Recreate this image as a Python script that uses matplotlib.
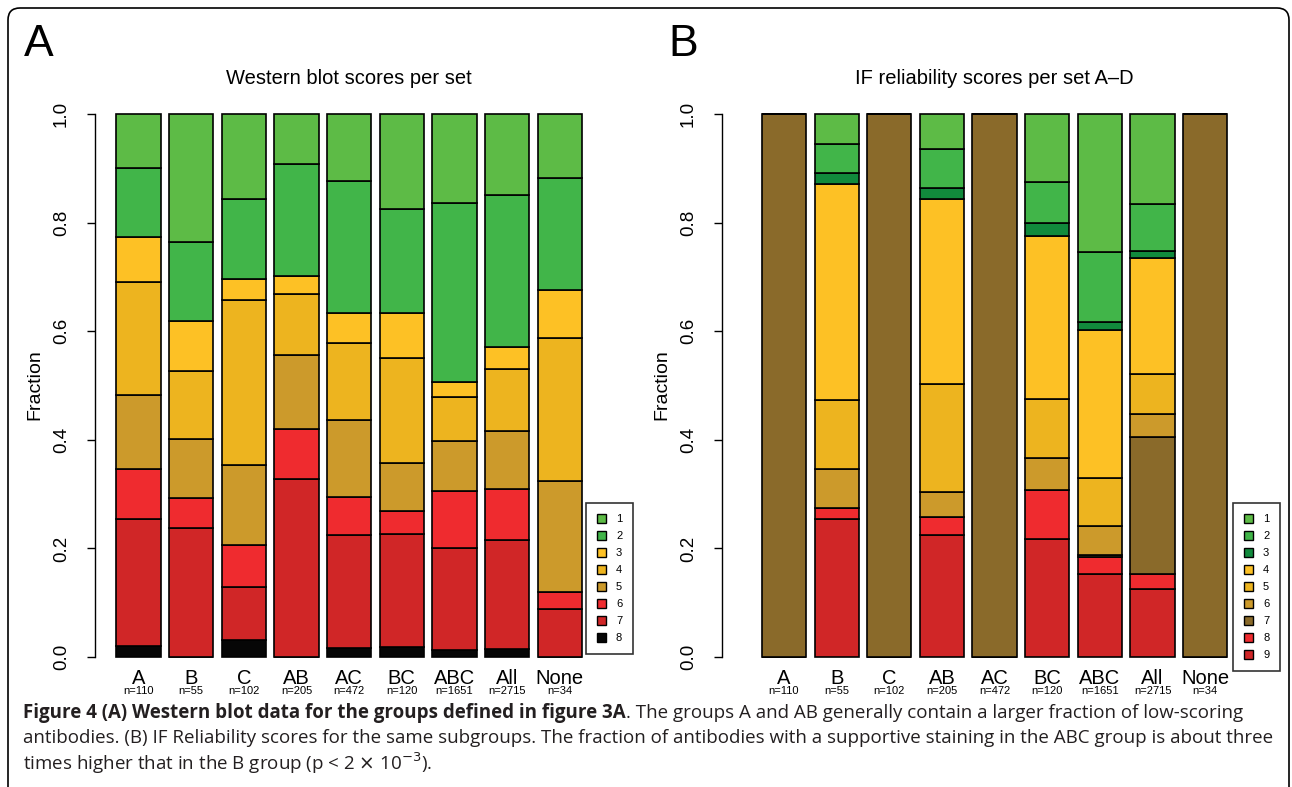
import matplotlib
matplotlib.use("Agg")
import matplotlib.pyplot as plt
from matplotlib.patches import Patch, PathPatch
from matplotlib.path import Path
from matplotlib.transforms import IdentityTransform

W, H = 1292, 787

groups = ["A", "B", "C", "AB", "AC", "BC", "ABC", "All", "None"]
counts = ["n=110", "n=55", "n=102", "n=205", "n=472", "n=120", "n=1651", "n=2715", "n=34"]

# Western blot scores, fraction per score (score 8 at bottom ... score 1 at top)
wb_8 = [0.020, 0.000, 0.031, 0.000, 0.017, 0.019, 0.013, 0.014, 0.000]
wb_7 = [0.235, 0.237, 0.097, 0.327, 0.208, 0.207, 0.188, 0.201, 0.088]
wb_6 = [0.091, 0.055, 0.078, 0.093, 0.070, 0.042, 0.105, 0.094, 0.031]
wb_5 = [0.136, 0.109, 0.148, 0.136, 0.141, 0.090, 0.092, 0.108, 0.206]
wb_4 = [0.209, 0.126, 0.303, 0.112, 0.143, 0.192, 0.080, 0.113, 0.263]
wb_3 = [0.082, 0.092, 0.039, 0.034, 0.055, 0.084, 0.029, 0.040, 0.088]
wb_2 = [0.127, 0.145, 0.147, 0.205, 0.243, 0.191, 0.330, 0.280, 0.206]
wb_1 = [0.100, 0.236, 0.157, 0.093, 0.123, 0.175, 0.163, 0.150, 0.118]

# IF reliability scores (score 9 at bottom ... score 1 at top)
if_9 = [0, 0.255, 0, 0.225, 0, 0.217, 0.152, 0.126, 0]
if_8 = [0, 0.019, 0, 0.033, 0, 0.091, 0.033, 0.026, 0]
if_7 = [1, 0.000, 1, 0.000, 1, 0.000, 0.002, 0.253, 1]
if_6 = [0, 0.072, 0, 0.045, 0, 0.059, 0.055, 0.042, 0]
if_5 = [0, 0.127, 0, 0.199, 0, 0.108, 0.088, 0.075, 0]
if_4 = [0, 0.399, 0, 0.341, 0, 0.300, 0.273, 0.213, 0]
if_3 = [0, 0.019, 0, 0.020, 0, 0.025, 0.014, 0.012, 0]
if_2 = [0, 0.054, 0, 0.073, 0, 0.075, 0.128, 0.088, 0]
if_1 = [0, 0.055, 0, 0.064, 0, 0.125, 0.255, 0.165, 0]

wb_series = [wb_8, wb_7, wb_6, wb_5, wb_4, wb_3, wb_2, wb_1]
wb_labels = ["8", "7", "6", "5", "4", "3", "2", "1"]
wb_colors = ["#060606", "#D02627", "#EF2B2F", "#CC9A2B", "#EDB41F", "#FDC125", "#41B549", "#5DBB46"]

if_series = [if_9, if_8, if_7, if_6, if_5, if_4, if_3, if_2, if_1]
if_labels = ["9", "8", "7", "6", "5", "4", "3", "2", "1"]
if_colors = ["#D02627", "#EF2B2F", "#8A6A2A", "#CC9A2B", "#EDB41F", "#FDC125", "#118A3C", "#41B549", "#5DBB46"]

plt.rcParams['font.family'] = ["Liberation Sans", "DejaVu Sans"]

fig = plt.figure(figsize=(W / 100, H / 100), dpi=100)


def fx(px):
    return px / W


def fy(py):
    return 1 - py / H


def panel(left, first_center, title, letter, letter_x, series, labels, colors, leg_x, leg_top):
    step = 52.65
    width_px = 560
    ax = fig.add_axes([fx(left), fy(657), fx(width_px), 543 / H])
    ax.patch.set_visible(False)
    lo = -(first_center - left) / step
    ax.set_xlim(lo, lo + width_px / step)
    ax.set_ylim(0, 1)
    x = list(range(len(groups)))
    bottom = [0.0] * len(groups)
    for s, c in zip(series, colors):
        ax.bar(x, s, bottom=bottom, width=0.84, color=c, edgecolor="black",
               linewidth=1.2, clip_on=False)
        bottom = [b + v for b, v in zip(bottom, s)]
    for sp in ["top", "right", "bottom"]:
        ax.spines[sp].set_visible(False)
    ax.spines["left"].set_bounds(0, 1)
    ax.spines["left"].set_linewidth(1.0)
    ax.set_xticks([])
    ax.set_yticks([0, 0.2, 0.4, 0.6, 0.8, 1.0])
    ax.set_yticklabels(["0.0", "0.2", "0.4", "0.6", "0.8", "1.0"], rotation=90,
                       va="center", fontsize=13.5)
    ax.tick_params(axis="y", length=6, width=1.0, pad=12)
    tr = ax.get_xaxis_transform()
    for i, (g, n) in enumerate(zip(groups, counts)):
        ax.text(i, -0.039, g, transform=tr, ha="center", va="center", fontsize=14.5)
        ax.text(i, -0.063, n, transform=tr, ha="center", va="center", fontsize=8)
    fig.text(fx(left - 60), fy(385), "Fraction", rotation=90, ha="center",
             va="center", fontsize=14)
    fig.text(fx(first_center + 4 * step), fy(78), title, ha="center", va="center",
             fontsize=14.5)
    fig.text(fx(letter_x), fy(45), letter, ha="left", va="center", fontsize=32)
    handles = [Patch(facecolor=c, edgecolor="black", linewidth=1.0) for c in colors]
    leg = fig.legend(handles[::-1], labels[::-1], loc="upper left",
                     bbox_to_anchor=(fx(leg_x), fy(leg_top)), fontsize=8,
                     frameon=True, fancybox=False, handlelength=0.8,
                     handleheight=0.8, handletextpad=0.9, labelspacing=0.62,
                     borderpad=1.0, borderaxespad=0)
    leg.get_frame().set_edgecolor("black")
    leg.get_frame().set_linewidth(1.2)
    return ax


panel(95, 138.5, "Western blot scores per set", "A", 24, wb_series, wb_labels,
      wb_colors, 586, 503)
panel(722, 784, "IF reliability scores per set A\u2013D", "B", 668, if_series,
      if_labels, if_colors, 1233, 503)

# frame around figure
r = 12
x0, x1, yt = 8, 1289, H - 8
verts = [(x0, -10), (x0, yt - r), (x0, yt), (x0 + r, yt), (x1 - r, yt),
         (x1, yt), (x1, yt - r), (x1, -10)]
codes = [Path.MOVETO, Path.LINETO, Path.CURVE3, Path.CURVE3, Path.LINETO,
         Path.CURVE3, Path.CURVE3, Path.LINETO]
fig.patches.append(PathPatch(Path(verts, codes), transform=IdentityTransform(),
                             facecolor="none", edgecolor="black", linewidth=1.2))

# caption
CAP = ["Open Sans", "DejaVu Sans"]
cap_color = "#231F20"
t1 = fig.text(fx(23), fy(713), "Figure 4 (A) Western blot data for the groups defined in figure 3A",
              fontsize=12, fontweight="bold", family=CAP, color=cap_color,
              ha="left", va="center")
t2 = fig.text(0, 0, ". The groups A and AB generally contain a larger fraction of low-scoring",
              fontsize=12, family=CAP, color=cap_color, ha="left", va="center")
t3 = fig.text(fx(23), fy(738), "antibodies. (B) IF Reliability scores for the same subgroups. "
              "The fraction of antibodies with a supportive staining in the ABC group is about three",
              fontsize=12, family=CAP, color=cap_color, ha="left", va="center")
t4 = fig.text(fx(23), fy(763), r"times higher that in the B group (p < 2 $\times$ 10$^{-3}$).",
              fontsize=12, family=CAP, color=cap_color, ha="left", va="center")

# shrink the caption so line 2 spans the same width as in the figure
rend = fig.canvas.get_renderer()
w2 = t3.get_window_extent(rend).width
size = 12 * 1245 / w2
for t in (t1, t2, t3, t4):
    t.set_fontsize(size)
b1 = t1.get_window_extent(rend)
t2.set_position((b1.x1 / W, fy(713)))

fig.savefig("out.png", dpi=100)
